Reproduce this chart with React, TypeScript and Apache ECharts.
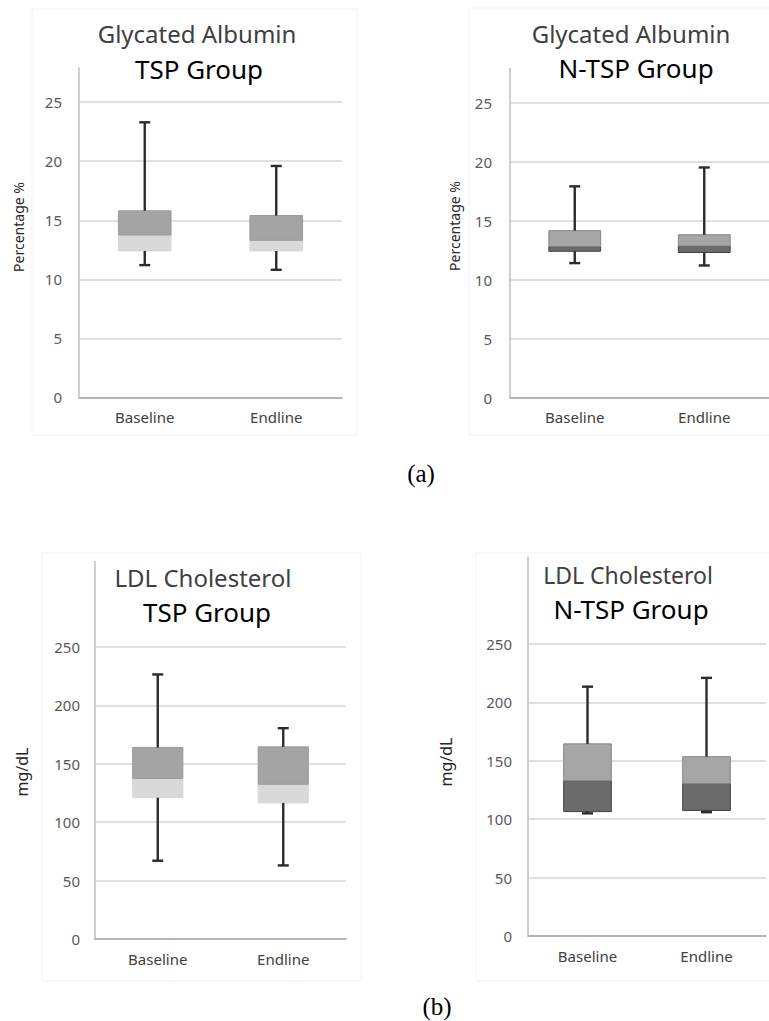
import React, { useEffect, useRef } from 'react';
import * as echarts from 'echarts';

const categories = ['Baseline', 'Endline'];

// Glycated Albumin, TSP group (%)
const gaTspMin = [11.2, 10.8];
const gaTspQ1 = [12.4, 12.4];
const gaTspMed = [13.75, 13.3];
const gaTspQ3 = [15.8, 15.4];
const gaTspMax = [23.3, 19.6];

// Glycated Albumin, N-TSP group (%)
const gaNtspMin = [11.4, 11.2];
const gaNtspQ1 = [12.4, 12.3];
const gaNtspMed = [12.8, 12.85];
const gaNtspQ3 = [14.15, 13.8];
const gaNtspMax = [17.9, 19.5];

// LDL Cholesterol, TSP group (mg/dL)
const ldlTspMin = [67, 63];
const ldlTspQ1 = [121, 116.5];
const ldlTspMed = [137.5, 132.5];
const ldlTspQ3 = [164, 164.5];
const ldlTspMax = [226.5, 180.5];

// LDL Cholesterol, N-TSP group (mg/dL)
const ldlNtspMin = [105, 106];
const ldlNtspQ1 = [106.5, 107.5];
const ldlNtspMed = [133, 130.5];
const ldlNtspQ3 = [164.5, 153.5];
const ldlNtspMax = [213.5, 221];

const FONT = '"Noto Sans", "Open Sans", sans-serif';

type BoxStyle = { upper: string; upperStroke: string; lower: string; lowerStroke: string };
const tspStyle: BoxStyle = { upper: '#a4a4a4', upperStroke: '#9a9a9a', lower: '#d9d9d9', lowerStroke: '#d9d9d9' };
const ntspStyle: BoxStyle = { upper: '#a6a6a6', upperStroke: '#858585', lower: '#6b6b6b', lowerStroke: '#404040' };

function build(min: number[], q1: number[], med: number[], q3: number[], max: number[]) {
  return categories.map((_, i) => [i, min[i], q1[i], med[i], q3[i], max[i]]);
}

function makeRender(st: BoxStyle) {
  return (params: any, api: any) => {
    const x = api.value(0);
    const pMin = api.coord([x, api.value(1)]);
    const pQ1 = api.coord([x, api.value(2)]);
    const pMed = api.coord([x, api.value(3)]);
    const pQ3 = api.coord([x, api.value(4)]);
    const pMax = api.coord([x, api.value(5)]);
    const cx = pMed[0];
    const bw = api.size([1, 0])[0] * 0.4;
    const cap = 11;
    const wStyle = { stroke: '#2b2b2b', lineWidth: 2.4 };
    return {
      type: 'group',
      children: [
        {
          type: 'rect',
          shape: { x: cx - bw / 2, y: pMed[1], width: bw, height: pQ1[1] - pMed[1] },
          style: { fill: st.lower, stroke: st.lowerStroke, lineWidth: 1 },
        },
        {
          type: 'rect',
          shape: { x: cx - bw / 2, y: pQ3[1], width: bw, height: pMed[1] - pQ3[1] },
          style: { fill: st.upper, stroke: st.upperStroke, lineWidth: 1 },
        },
        { type: 'line', shape: { x1: cx, y1: pQ3[1], x2: cx, y2: pMax[1] }, style: wStyle },
        { type: 'line', shape: { x1: cx - cap / 2, y1: pMax[1], x2: cx + cap / 2, y2: pMax[1] }, style: wStyle },
        { type: 'line', shape: { x1: cx, y1: pQ1[1], x2: cx, y2: pMin[1] }, style: wStyle },
        { type: 'line', shape: { x1: cx - cap / 2, y1: pMin[1], x2: cx + cap / 2, y2: pMin[1] }, style: wStyle },
      ],
    };
  };
}

function txt(text: string, x: number, y: number, size: number, color: string, rotation = 0, family = FONT) {
  return {
    type: 'text',
    x,
    y,
    rotation,
    silent: true,
    style: {
      text,
      fill: color,
      font: `${size}px ${family}`,
      align: 'center',
      verticalAlign: 'middle',
      textAlign: 'center',
      textVerticalAlign: 'middle',
    },
  };
}

function frame(x: number, y: number, w: number, h: number) {
  return {
    type: 'rect',
    silent: true,
    z: -10,
    shape: { x, y, width: w, height: h },
    style: { fill: 'none', stroke: '#f2f2f2', lineWidth: 1 },
  };
}

// vertical axis line extension above the top gridline (plot-area top)
function axisExt(x: number, y1: number, y2: number) {
  return {
    type: 'line',
    silent: true,
    shape: { x1: x, y1, x2: x, y2 },
    style: { stroke: '#bfbfbf', lineWidth: 1.5 },
  };
}

const grids = [
  { left: 79, top: 68, width: 263, height: 329.3 },
  { left: 510, top: 68.3, width: 263, height: 329.4 },
  { left: 95, top: 647, width: 251, height: 292 },
  { left: 528, top: 644, width: 238, height: 292 },
];
const yMax = [27.9, 27.9, 250, 250];
const yInterval = [5, 5, 50, 50];
const yMargin = [17, 18, 15, 16];

export default function App() {
  const ref = useRef<HTMLDivElement>(null);
  useEffect(() => {
    if (!ref.current) return;
    const chart = echarts.init(ref.current, undefined, { renderer: 'svg' });
    const option: any = {
      animation: false,
      backgroundColor: '#ffffff',
      textStyle: { fontFamily: FONT },
      grid: grids.map((g) => ({ ...g, containLabel: false })),
      xAxis: grids.map((_, i) => ({
        gridIndex: i,
        type: 'category',
        data: categories,
        boundaryGap: true,
        axisLine: { show: true, lineStyle: { color: '#a6a6a6', width: 1.5 } },
        axisTick: { show: false },
        splitLine: { show: false },
        axisLabel: { color: '#404040', fontSize: 15, margin: 12, fontFamily: FONT },
      })),
      yAxis: grids.map((_, i) => ({
        gridIndex: i,
        type: 'value',
        min: 0,
        max: yMax[i],
        interval: yInterval[i],
        axisLine: { show: true, lineStyle: { color: '#bfbfbf', width: 1.5 } },
        axisTick: { show: false },
        splitLine: { show: true, showMaxLine: i >= 2, lineStyle: { color: '#d6d6d6', width: 1.5 } },
        axisLabel: { color: '#595959', fontSize: 15, margin: yMargin[i], showMaxLabel: i >= 2, fontFamily: FONT },
      })),
      series: [
        { type: 'custom', xAxisIndex: 0, yAxisIndex: 0, renderItem: makeRender(tspStyle), encode: { x: 0, y: [1, 2, 3, 4, 5] }, data: build(gaTspMin, gaTspQ1, gaTspMed, gaTspQ3, gaTspMax) },
        { type: 'custom', xAxisIndex: 1, yAxisIndex: 1, renderItem: makeRender(ntspStyle), encode: { x: 0, y: [1, 2, 3, 4, 5] }, data: build(gaNtspMin, gaNtspQ1, gaNtspMed, gaNtspQ3, gaNtspMax) },
        { type: 'custom', xAxisIndex: 2, yAxisIndex: 2, renderItem: makeRender(tspStyle), encode: { x: 0, y: [1, 2, 3, 4, 5] }, data: build(ldlTspMin, ldlTspQ1, ldlTspMed, ldlTspQ3, ldlTspMax) },
        { type: 'custom', xAxisIndex: 3, yAxisIndex: 3, renderItem: makeRender(ntspStyle), encode: { x: 0, y: [1, 2, 3, 4, 5] }, data: build(ldlNtspMin, ldlNtspQ1, ldlNtspMed, ldlNtspQ3, ldlNtspMax) },
      ],
      graphic: [
        frame(32, 9, 325, 426),
        frame(469, 8, 310, 427),
        frame(42, 553, 319, 428),
        frame(476, 553, 303, 428),
        axisExt(95, 561, 647),
        axisExt(528, 556.7, 644),
        txt('Glycated Albumin', 197, 33, 24, '#404040'),
        txt('TSP Group', 199, 69, 26, '#000000'),
        txt('Glycated Albumin', 631, 33, 24, '#404040'),
        txt('N-TSP Group', 636, 68, 26, '#000000'),
        txt('LDL Cholesterol', 203, 577, 24, '#404040'),
        txt('TSP Group', 207, 612, 26, '#000000'),
        txt('LDL Cholesterol', 628, 575, 23, '#404040'),
        txt('N-TSP Group', 631, 609, 26, '#000000'),
        txt('Percentage %', 18, 227, 14, '#262626', Math.PI / 2),
        txt('Percentage %', 454, 226, 14, '#262626', Math.PI / 2),
        txt('mg/dL', 21.5, 772, 16, '#262626', Math.PI / 2),
        txt('mg/dL', 445.5, 762, 16, '#262626', Math.PI / 2),
        txt('(a)', 421, 473, 25, '#000000', 0, '"Liberation Serif", "Times New Roman", serif'),
        txt('(b)', 437, 1006, 25, '#000000', 0, '"Liberation Serif", "Times New Roman", serif'),
      ],
    };
    chart.setOption(option);
    return () => chart.dispose();
  }, []);
  return (
    <div
      ref={ref}
      style={{ position: 'absolute', left: 0, top: 0, width: 769, height: 1021, background: '#fff' }}
    />
  );
}
